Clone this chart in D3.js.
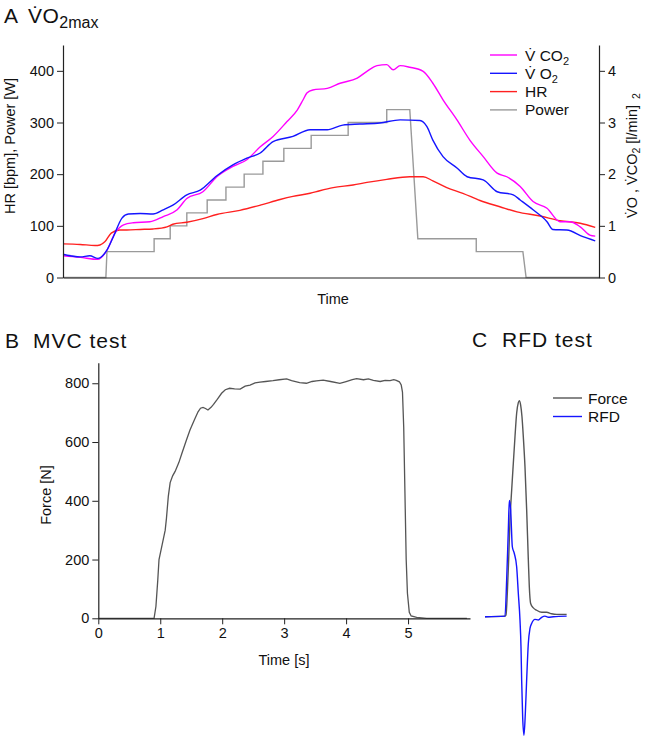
<!DOCTYPE html>
<html><head><meta charset="utf-8">
<script src="https://cdn.jsdelivr.net/npm/d3@7"></script>
<style>
body{margin:0;background:#fff;}
text{font-family:"Liberation Sans",Arial,sans-serif;fill:#111;}
</style></head>
<body><svg id="c" width="646" height="741"></svg>
<script>
// ---------- Panel A data (time in arbitrary units 0-100) ----------
const hrData = [[0,65],[3.2,64],[6.0,62],[6.9,63],[7.8,69],[9.0,86],[10.6,92],[11.9,92],[14.4,93],[16.8,94],[19.4,98],[20.5,103],[23.1,107],[26.1,114],[28.7,122],[33.0,130],[36.8,140],[40.5,151],[42.9,157],[46.1,163],[47.9,168],[50.4,174],[54.1,179],[56.7,184],[60.4,190],[64.7,195],[67.2,195],[69.0,187],[71.6,174],[74.6,163],[77.8,149],[81.5,137],[84.7,127],[89.0,119],[92.7,110],[96.5,105],[99.3,97]];
const vo2Data = [[0,0.45],[3.2,0.40],[5.0,0.42],[6.5,0.37],[8.2,0.53],[9.4,0.79],[11.0,1.15],[12.2,1.23],[14.4,1.24],[16.8,1.23],[18.7,1.31],[20.5,1.40],[23.1,1.60],[25.6,1.69],[28.7,1.97],[31.7,2.18],[34.3,2.31],[36.8,2.41],[39.2,2.63],[42.9,2.73],[46.1,2.86],[49.3,2.86],[52.2,2.95],[55.4,2.97],[59.1,2.99],[62.9,3.05],[66.6,3.04],[67.9,2.92],[69.0,2.66],[70.9,2.34],[73.5,2.12],[75.4,1.95],[78.4,1.89],[81.0,1.66],[84.0,1.60],[85.3,1.50],[87.7,1.31],[90.3,1.08],[91.4,0.93],[94.0,0.92],[97.0,0.79],[99.3,0.71]];
const vco2Data = [[0,0.42],[3.2,0.39],[6.5,0.35],[8.2,0.53],[9.7,0.86],[11.3,1.02],[13.1,1.06],[16.2,1.08],[18.7,1.18],[21.3,1.31],[23.1,1.53],[26.1,1.66],[28.7,1.95],[31.7,2.15],[34.3,2.28],[36.8,2.53],[39.2,2.73],[41.8,3.02],[43.7,3.24],[44.8,3.44],[45.5,3.57],[46.6,3.63],[49.3,3.66],[51.7,3.76],[54.9,3.86],[56.7,3.99],[58.6,4.10],[60.4,4.12],[61.6,4.02],[62.9,4.10],[64.7,4.07],[67.2,3.99],[69.0,3.76],[70.9,3.44],[73.5,3.05],[75.9,2.66],[78.4,2.34],[81.0,2.02],[82.8,1.95],[85.3,1.76],[87.7,1.47],[90.3,1.34],[92.7,1.08],[94.6,1.08],[96.5,0.98],[98.3,0.82],[99.3,0.80]];
const powerData = [[0,0],[8.0,0],[8.2,50],[17.0,50],[17.0,75],[20.0,75],[20.0,100],[23.1,100],[23.1,125],[26.9,125],[26.9,150],[30.4,150],[30.4,175],[33.8,175],[33.8,200],[37.3,200],[37.3,225],[41.2,225],[41.2,250],[46.3,250],[46.3,275],[53.2,275],[53.2,300],[60.4,300],[60.4,325],[64.7,325],[66.2,75],[77.1,75],[77.1,50],[85.8,50],[86.4,0],[100,0]];
const leftTicksA = [0,100,200,300,400];
const rightTicksA = [0,1,2,3,4];

// ---------- Panel B data (MVC) ----------
const mvcData = [[0,0],[0.5,0],[0.90,0],[0.93,40],[0.96,130],[0.98,200],[1.03,250],[1.08,300],[1.10,340],[1.13,415],[1.16,462],[1.20,485],[1.24,500],[1.30,530],[1.35,562],[1.42,605],[1.48,641],[1.55,675],[1.61,703],[1.65,715],[1.69,718],[1.73,714],[1.77,709],[1.82,718],[1.86,728],[1.92,745],[1.99,766],[2.05,778],[2.12,783],[2.20,781],[2.29,780],[2.37,790],[2.45,794],[2.53,801],[2.61,804],[2.70,806],[2.82,809],[2.92,812],[3.04,815],[3.12,809],[3.25,802],[3.36,800],[3.45,806],[3.52,808],[3.63,811],[3.75,806],[3.90,800],[4.00,806],[4.10,812],[4.17,816],[4.28,812],[4.36,815],[4.44,810],[4.55,806],[4.63,810],[4.71,809],[4.77,812],[4.81,810],[4.86,805],[4.89,794],[4.91,770],[4.93,650],[4.95,425],[4.97,200],[4.99,85],[5.02,20],[5.05,8],[5.14,3],[5.3,0],[5.95,0]];
const mvcYTicks = [0,200,400,600,800];
const mvcXTicks = [0,1,2,3,4,5];

// ---------- Panel C data (RFD, time in ms) ----------
const rfdForce = [[0,0],[60,2],[63,6],[67,80],[71,193],[75,328],[80,430],[85,522],[90,612],[95,692],[100,728],[103,735],[107,720],[111,680],[115,612],[120,510],[125,365],[130,195],[133,102],[137,45],[145,30],[155,22],[170,15],[185,15],[200,10],[215,8],[245,8]];
const rfdRate = [[0,0],[60,2],[65,125],[70,295],[73,395],[77,364],[82,238],[88,215],[95,170],[100,79],[105,-11],[108,-102],[110,-215],[113,-340],[117,-403],[121,-329],[125,-215],[130,-91],[135,-40],[140,-23],[150,-9],[160,-11],[170,-2],[180,2],[190,-2],[205,0],[245,2]];

const svg = d3.select("#c");
svg.append("rect").attr("width",646).attr("height",741).attr("fill","#fff");
const FONT = "Liberation Sans, Arial, sans-serif";

function styleAxis(g){
  g.attr("font-family",FONT).attr("font-size",14.5);
  g.selectAll("path.domain").attr("stroke","#222").attr("stroke-width",1.2);
  g.selectAll(".tick line").attr("stroke","#222").attr("stroke-width",1);
  g.selectAll(".tick text").attr("fill","#111");
}
const fmt = d3.format("d");

// ================= Panel A =================
const xA = d3.scaleLinear().domain([0,100]).range([63,599]);
const yL = d3.scaleLinear().domain([0,450]).range([277.5,45]);
const yR = d3.scaleLinear().domain([0,4.5]).range([277.5,45]);

const lineA = (ys) => d3.line().x(d=>xA(d[0])).y(d=>ys(d[1]));
svg.append("path").datum(powerData).attr("d",lineA(yL)).attr("fill","none").attr("stroke","#9a9a9a").attr("stroke-width",1.4);
svg.append("path").datum(hrData).attr("d",lineA(yL).curve(d3.curveMonotoneX)).attr("fill","none").attr("stroke","#ff2020").attr("stroke-width",1.4);
svg.append("path").datum(vco2Data).attr("d",lineA(yR).curve(d3.curveMonotoneX)).attr("fill","none").attr("stroke","#ff00ff").attr("stroke-width",1.4);
svg.append("path").datum(vo2Data).attr("d",lineA(yR).curve(d3.curveMonotoneX)).attr("fill","none").attr("stroke","#1515ff").attr("stroke-width",1.4);

svg.append("g").attr("transform","translate(63,0)")
  .call(d3.axisLeft(yL).tickValues(leftTicksA).tickFormat(fmt).tickSize(6).tickPadding(3).tickSizeOuter(0)).call(styleAxis);
svg.append("g").attr("transform","translate(599,0)")
  .call(d3.axisRight(yR).tickValues(rightTicksA).tickFormat(fmt).tickSize(6).tickPadding(3).tickSizeOuter(0)).call(styleAxis);
svg.append("g").attr("transform","translate(0,277.5)")
  .call(d3.axisBottom(xA).tickValues([]).tickSizeOuter(0)).call(styleAxis);

// titles & labels A
svg.append("text").attr("x",4).attr("y",23).attr("font-size",21).text("A");
const tA = svg.append("text").attr("x",28).attr("y",23).attr("font-size",21).attr("letter-spacing",0.5);
tA.append("tspan").text("V\u0307O");
tA.append("tspan").attr("font-size",16).attr("dy",5).attr("letter-spacing",0).text("2max");

svg.append("text").attr("transform","translate(15,146) rotate(-90)").attr("text-anchor","middle").attr("font-size",14.5).text("HR [bpm], Power [W]");

const rl = svg.append("text").attr("transform","translate(637,218) rotate(-90)").attr("text-anchor","start").attr("font-size",14.5);
rl.append("tspan").text("V\u0307O , V\u0307CO");
rl.append("tspan").attr("font-size",10.5).attr("dy",3).text("2");
rl.append("tspan").attr("dy",-3).attr("xml:space","preserve").text(" [l/min]");
rl.append("tspan").attr("font-size",10.5).attr("dx",6).attr("dy",3).text("2");

svg.append("text").attr("x",333).attr("y",304).attr("text-anchor","middle").attr("font-size",14.5).text("Time");

// legend A
const legA = [
  {c:"#ff00ff", main:"V\u0307 CO", sub:"2"},
  {c:"#1515ff", main:"V\u0307 O", sub:"2"},
  {c:"#ff2020", main:"HR", sub:""},
  {c:"#9a9a9a", main:"Power", sub:""}
];
legA.forEach((d,i)=>{
  const y = 55 + i*18.3;
  svg.append("line").attr("x1",490).attr("x2",517).attr("y1",y).attr("y2",y).attr("stroke",d.c).attr("stroke-width",1.4);
  const t = svg.append("text").attr("x",525).attr("y",y+5.5).attr("font-size",15.5);
  t.append("tspan").text(d.main);
  if(d.sub) t.append("tspan").attr("font-size",11).attr("dy",4).text(d.sub);
});

// ================= Panel B =================
const xB = d3.scaleLinear().domain([0,6]).range([98.3,470]);
const yB = d3.scaleLinear().domain([0,870]).range([618.3,362.7]);
svg.append("path").datum(mvcData).attr("d",d3.line().x(d=>xB(d[0])).y(d=>yB(d[1]))).attr("fill","none").attr("stroke","#555").attr("stroke-width",1.3);
svg.append("g").attr("transform","translate(98.3,0)")
  .call(d3.axisLeft(yB).tickValues(mvcYTicks).tickFormat(fmt).tickSize(6).tickPadding(3).tickSizeOuter(0)).call(styleAxis);
svg.append("g").attr("transform","translate(0,618.3)")
  .call(d3.axisBottom(xB).tickValues(mvcXTicks).tickFormat(fmt).tickSize(6).tickPadding(3).tickSizeOuter(0)).call(styleAxis);

svg.append("text").attr("x",5).attr("y",348).attr("font-size",21).text("B");
svg.append("text").attr("x",33).attr("y",348).attr("font-size",21).attr("letter-spacing",1).text("MVC test");
svg.append("text").attr("transform","translate(51,495) rotate(-90)").attr("text-anchor","middle").attr("font-size",14.5).text("Force [N]");
svg.append("text").attr("x",284).attr("y",665).attr("text-anchor","middle").attr("font-size",14.5).text("Time [s]");

// ================= Panel C =================
const xC = d3.scaleLinear().domain([0,250]).range([485,568.3]);
const yC = d3.scaleLinear().domain([0,800]).range([616.7,616.7-800*0.294]);
svg.append("path").datum(rfdForce).attr("d",d3.line().x(d=>xC(d[0])).y(d=>yC(d[1])).curve(d3.curveMonotoneX)).attr("fill","none").attr("stroke","#555").attr("stroke-width",1.4);
svg.append("path").datum(rfdRate).attr("d",d3.line().x(d=>xC(d[0])).y(d=>yC(d[1])).curve(d3.curveMonotoneX)).attr("fill","none").attr("stroke","#1515ff").attr("stroke-width",1.4);

svg.append("text").attr("x",472).attr("y",347).attr("font-size",21).text("C");
svg.append("text").attr("x",502).attr("y",347).attr("font-size",21).attr("letter-spacing",1).text("RFD test");
[{c:"#555",t:"Force"},{c:"#1515ff",t:"RFD"}].forEach((d,i)=>{
  const y = 398 + i*18.5;
  svg.append("line").attr("x1",553).attr("x2",582).attr("y1",y).attr("y2",y).attr("stroke",d.c).attr("stroke-width",1.4);
  svg.append("text").attr("x",588).attr("y",y+5.5).attr("font-size",15.5).text(d.t);
});
</script></body></html>
